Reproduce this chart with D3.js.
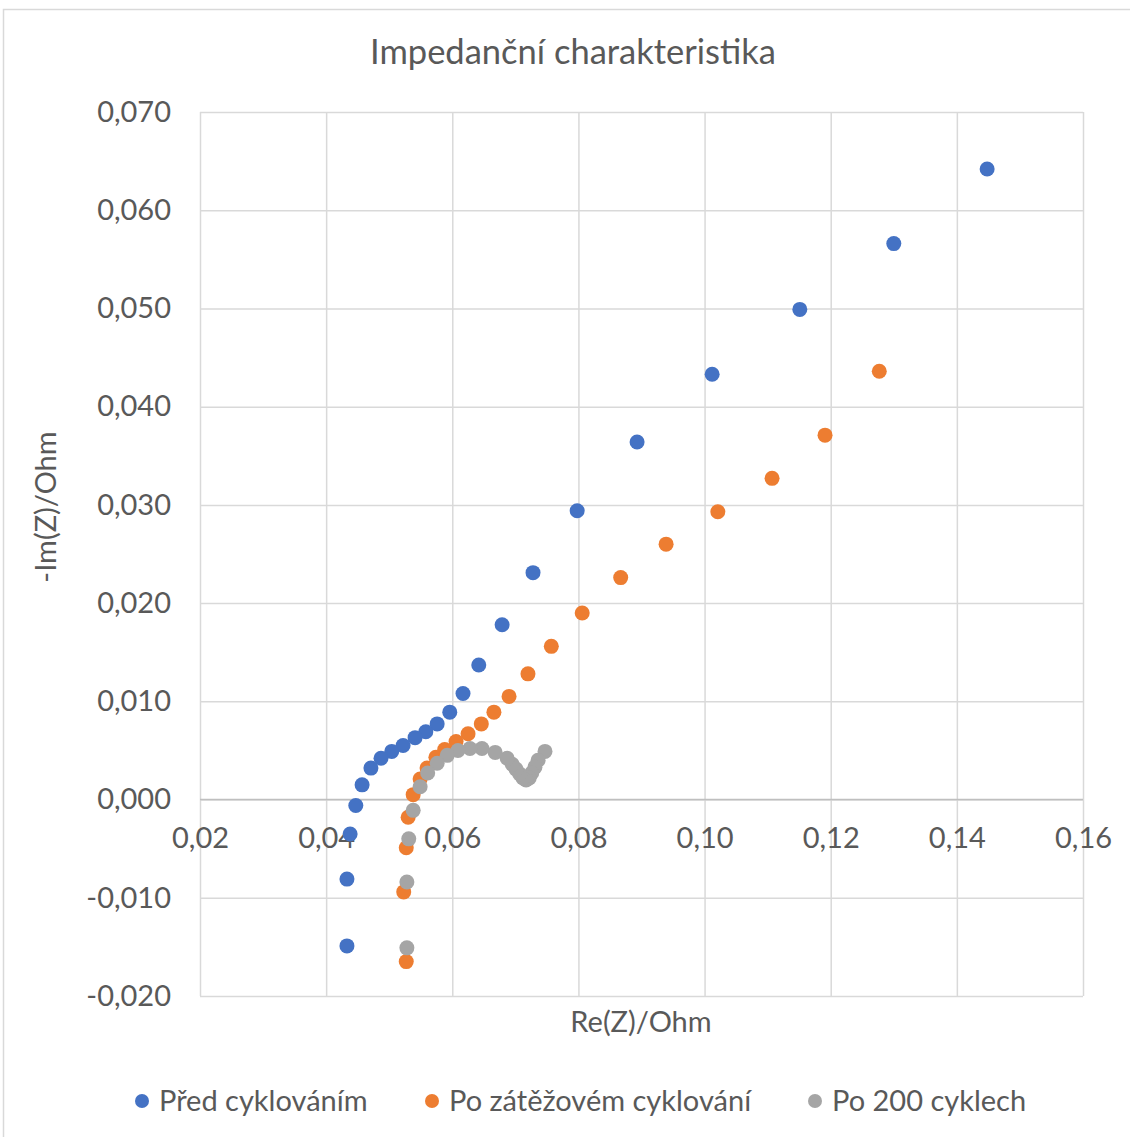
<!DOCTYPE html>
<html>
<head>
<meta charset="utf-8">
<script src="https://cdn.jsdelivr.net/npm/d3@7"></script>
<style>
	body { margin: 0; background: #fff; }
	text { font-family: Lato, "Open Sans", sans-serif; fill: #595959; }
	.grid line { stroke: #d9d9d9; stroke-width: 1.5; }
	.axis path, .axis line { display: none; }
</style>
</head>
<body>
<div class="container"></div>
<script>
var seriesNames = ["Před cyklováním", "Po zátěžovém cyklování", "Po 200 cyklech"];
var seriesColors = ["#4472C4", "#ED7D31", "#A5A5A5"];

var predRe = [0.1448, 0.1300, 0.1151, 0.1012, 0.0893, 0.0798, 0.0728, 0.0679, 0.0642, 0.0617, 0.0596, 0.0576,
	0.0558, 0.0541, 0.0522, 0.0504, 0.0487, 0.0471, 0.0457, 0.0447, 0.0438, 0.0433, 0.0433];
var predIm = [0.0642, 0.0566, 0.0499, 0.0433, 0.0364, 0.0294, 0.0231, 0.0178, 0.0137, 0.0108, 0.0089, 0.0077,
	0.0069, 0.0063, 0.0055, 0.0049, 0.0042, 0.0032, 0.0015, -0.0006, -0.0035, -0.0081, -0.0149];

var zatezRe = [0.1277, 0.1191, 0.1107, 0.1021, 0.0939, 0.0867, 0.0806, 0.0757, 0.0720, 0.0690, 0.0666, 0.0646,
	0.0625, 0.0606, 0.0588, 0.0574, 0.0560, 0.0549, 0.0538, 0.0530, 0.0527, 0.0523, 0.0527];
var zatezIm = [0.0436, 0.0371, 0.0327, 0.0293, 0.0260, 0.0226, 0.0190, 0.0156, 0.0128, 0.0105, 0.0089, 0.0077,
	0.0067, 0.0059, 0.0051, 0.0043, 0.0032, 0.0021, 0.0005, -0.0018, -0.0049, -0.0094, -0.0165];

var cyklyRe = [0.0747, 0.0736, 0.0731, 0.0726, 0.0722, 0.0717, 0.0712, 0.0707, 0.0701, 0.0695, 0.0687, 0.0668,
	0.0647, 0.0628, 0.0609, 0.0592, 0.0576, 0.0561, 0.0549, 0.0538, 0.0531, 0.0528, 0.0528];
var cyklyIm = [0.0049, 0.0040, 0.0033, 0.0027, 0.0022, 0.0020, 0.0022, 0.0026, 0.0031, 0.0036, 0.0042, 0.0048,
	0.0052, 0.0052, 0.0050, 0.0045, 0.0037, 0.0027, 0.0013, -0.0011, -0.0040, -0.0084, -0.0151];

var xTicks = [0.02, 0.04, 0.06, 0.08, 0.10, 0.12, 0.14, 0.16];
var yTicks = [-0.02, -0.01, 0, 0.01, 0.02, 0.03, 0.04, 0.05, 0.06, 0.07];

const WIDTH = 1130;
const HEIGHT = 1137;
const LEFT = 200, RIGHT = 1083, TOP = 112, BOTTOM = 996;

var svg, xScale, yScale;

var translate = function(x, y){
	return "translate("+x+","+y+")";
};

var comma = function(f){
	return function(d){ return d3.format(f)(d).replace(".", ",").replace("−", "-"); };
};

var loadChart = function(){
	svg = d3.select('.container').append('svg')
		.attr('width', WIDTH)
		.attr('height', HEIGHT);

	svg.append('rect')
		.attr('x', 3.5).attr('y', 9.5)
		.attr('width', WIDTH + 10).attr('height', HEIGHT + 10)
		.attr('fill', 'none')
		.attr('stroke', '#d9d9d9')
		.attr('stroke-width', 1.5);

	xScale = d3.scaleLinear()
		.domain([0.02, 0.16])
		.range([LEFT, RIGHT]);

	yScale = d3.scaleLinear()
		.domain([-0.02, 0.07])
		.range([BOTTOM, TOP]);

	// gridlines
	svg.append('g').classed('grid', true)
		.attr('transform', translate(0, BOTTOM))
		.call(d3.axisBottom(xScale).tickValues(xTicks).tickSize(-(BOTTOM - TOP)).tickFormat(''))
		.select('.domain').remove();

	svg.append('g').classed('grid', true)
		.attr('transform', translate(LEFT, 0))
		.call(d3.axisLeft(yScale).tickValues(yTicks).tickSize(-(RIGHT - LEFT)).tickFormat(''))
		.select('.domain').remove();

	// zero axis line
	svg.append('line')
		.attr('x1', LEFT).attr('x2', RIGHT)
		.attr('y1', yScale(0)).attr('y2', yScale(0))
		.attr('stroke', '#bfbfbf')
		.attr('stroke-width', 1.5);

	var xAxis = svg.append('g').classed('axis', true)
		.attr('transform', translate(0, yScale(0)))
		.call(d3.axisBottom(xScale).tickValues(xTicks).tickSize(0).tickPadding(28).tickFormat(comma('.2f')));
	xAxis.selectAll('text').style('font-size', '29px');

	var yAxis = svg.append('g').classed('axis', true)
		.attr('transform', translate(LEFT, 0))
		.call(d3.axisLeft(yScale).tickValues(yTicks).tickSize(0).tickPadding(29).tickFormat(comma('.3f')));
	yAxis.selectAll('text').style('font-size', '29px');

	svg.append('text')
		.attr('x', 573).attr('y', 64)
		.attr('text-anchor', 'middle')
		.style('font-size', '34.5px')
		.text('Impedanční charakteristika');

	svg.append('text')
		.attr('x', 641).attr('y', 1032)
		.attr('text-anchor', 'middle')
		.style('font-size', '29px')
		.text('Re(Z)/Ohm');

	svg.append('text')
		.attr('transform', translate(56, 507) + ' rotate(-90)')
		.attr('text-anchor', 'middle')
		.style('font-size', '29px')
		.text('-Im(Z)/Ohm');

	var series = [
		{re: predRe, im: predIm},
		{re: zatezRe, im: zatezIm},
		{re: cyklyRe, im: cyklyIm}
	];

	series.forEach(function(s, k){
		svg.append('g').selectAll('circle')
			.data(s.re)
			.enter().append('circle')
			.attr('cx', function(d){ return xScale(d); })
			.attr('cy', function(d, i){ return yScale(s.im[i]); })
			.attr('r', 7.5)
			.attr('fill', seriesColors[k]);
	});

	var legendX = [142, 432, 815];
	var legend = svg.append('g').selectAll('g')
		.data(seriesNames)
		.enter().append('g')
		.attr('transform', function(d, i){ return translate(legendX[i], 1101); });

	legend.append('circle')
		.attr('r', 7)
		.attr('fill', function(d, i){ return seriesColors[i]; });

	legend.append('text')
		.attr('x', 17).attr('y', 10)
		.style('font-size', '29px')
		.text(function(d){ return d; });
}

window.onload = loadChart;
</script>
</body>
</html>
